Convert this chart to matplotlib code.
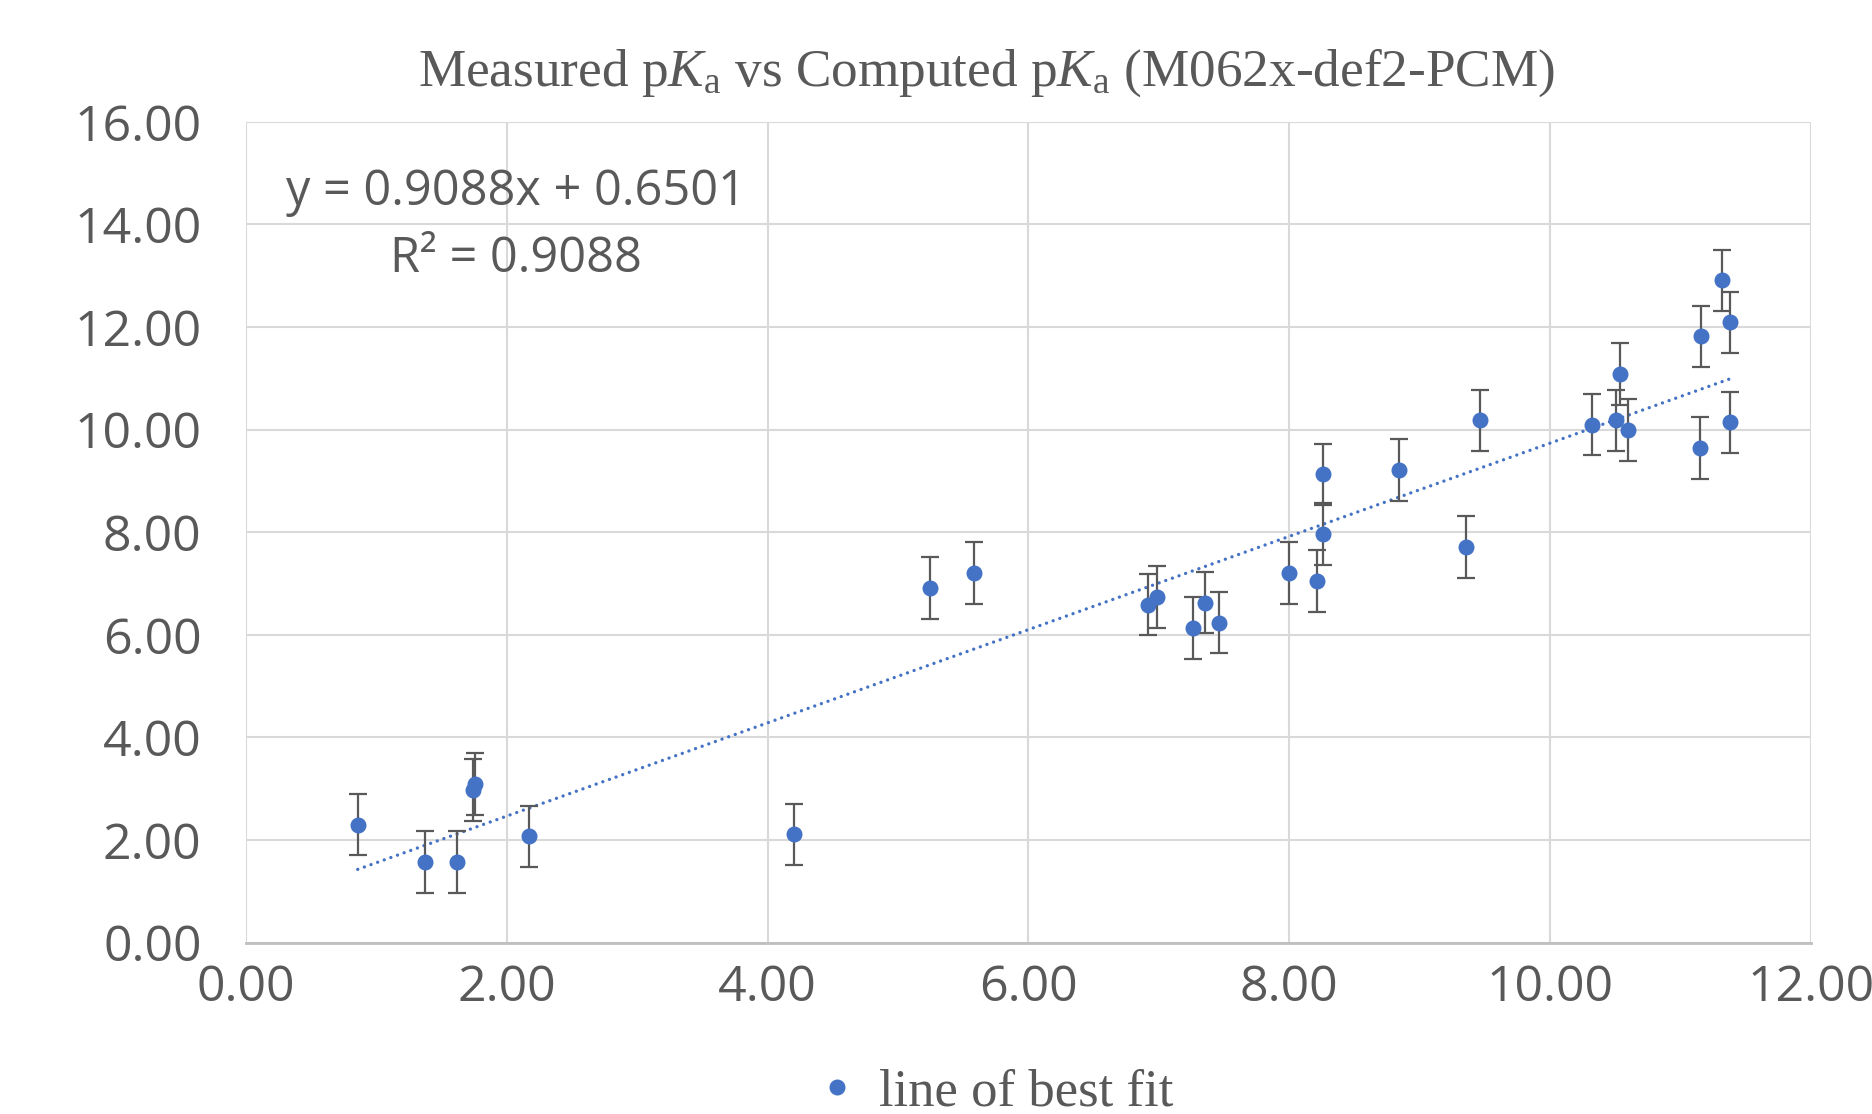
import matplotlib
matplotlib.use("Agg")
import matplotlib.pyplot as plt
import numpy as np
from matplotlib.lines import Line2D

# ---- data ----
computed_pka = [0.857, 1.371, 1.617, 1.740, 1.757, 2.170, 4.200, 5.245, 5.584,
                6.920, 6.985, 7.260, 7.354, 7.460, 8.000, 8.215, 8.260, 8.256,
                8.840, 9.354, 9.465, 10.320, 10.504, 10.535, 10.596, 11.146,
                11.160, 11.315, 11.376, 11.376]
measured_pka = [2.30, 1.57, 1.57, 2.98, 3.09, 2.07, 2.11, 6.91, 7.21,
                6.59, 6.74, 6.13, 6.63, 6.24, 7.205, 7.05, 7.97, 9.13,
                9.21, 7.71, 10.18, 10.10, 10.18, 11.08, 9.99, 9.64,
                11.82, 12.91, 12.09, 10.14]
error_y = [0.6] * len(measured_pka)
fit_slope = 0.9088
fit_intercept = 0.6501
fit_r2 = 0.9088
x_ticks = [0, 2, 4, 6, 8, 10, 12]
y_ticks = [0, 2, 4, 6, 8, 10, 12, 14, 16]
legend_label = "line of best fit"

# ---- style ----
plt.rcParams['mathtext.fontset'] = 'custom'
plt.rcParams['mathtext.rm'] = 'Liberation Serif'
plt.rcParams['mathtext.it'] = 'Liberation Serif:italic'
TXT = '#595959'
BLUE = '#4472C4'

fig = plt.figure(figsize=(18.72, 11.14), dpi=100)
ax = fig.add_axes([0.1314, 0.1538, 0.9674 - 0.1314, 0.8906 - 0.1538])

ax.set_xlim(0, 12)
ax.set_ylim(0, 16)
ax.set_xticks(x_ticks)
ax.set_yticks(y_ticks)
ax.set_xticklabels([f"{v:.2f}" for v in x_ticks])
ax.set_yticklabels([f"{v:.2f}" for v in y_ticks])
ax.grid(True, color='#D9D9D9', linewidth=1.5)
ax.set_axisbelow(True)
for s in ['top', 'right', 'left']:
    ax.spines[s].set_visible(False)
ax.spines['bottom'].set_color('#BFBFBF')
ax.spines['bottom'].set_linewidth(2)
ax.tick_params(axis='both', length=0, labelcolor=TXT, labelsize=36)
ax.tick_params(axis='y', pad=32)
ax.tick_params(axis='x', pad=15)
for lab in ax.get_xticklabels() + ax.get_yticklabels():
    lab.set_fontfamily('Open Sans')

# trendline
xs = np.array([min(computed_pka), max(computed_pka)])
ax.plot(xs, fit_slope * xs + fit_intercept, color=BLUE, linewidth=2.4,
        linestyle=(0, (0.01, 2.1)), dash_capstyle='round', zorder=2)

# points with error bars
ax.errorbar(computed_pka, measured_pka, yerr=error_y, fmt='o', color=BLUE,
            markersize=10.5, ecolor='#595959', elinewidth=1.6, capsize=6.5,
            capthick=1.6, zorder=3)

# equation
fig.text(0.2756, 0.816, f"y = {fit_slope:.4f}x + {fit_intercept:.4f}",
         ha='center', va='baseline', fontsize=35, color=TXT, fontfamily='Open Sans')
fig.text(0.2756, 0.756, f"R² = {fit_r2:.4f}",
         ha='center', va='baseline', fontsize=35, color=TXT, fontfamily='Open Sans')

# title
fig.text(0.527, 0.9228,
         r"Measured p$\mathit{K}_\mathrm{a}$ vs Computed p$\mathit{K}_\mathrm{a}$ (M062x-def2-PCM)",
         ha='center', va='baseline', fontsize=38.3, color=TXT,
         fontfamily='Liberation Serif')

# legend
handle = Line2D([], [], marker='o', linestyle='none', color=BLUE, markersize=10.5)
leg = fig.legend([handle], [legend_label], loc='center', bbox_to_anchor=(0.53, 0.019),
                 frameon=False, prop={'family': 'Liberation Serif', 'size': 38},
                 handletextpad=0.3, handlelength=1.0, borderpad=0.1)
for t in leg.get_texts():
    t.set_color(TXT)

fig.savefig('out.png', dpi=100)
